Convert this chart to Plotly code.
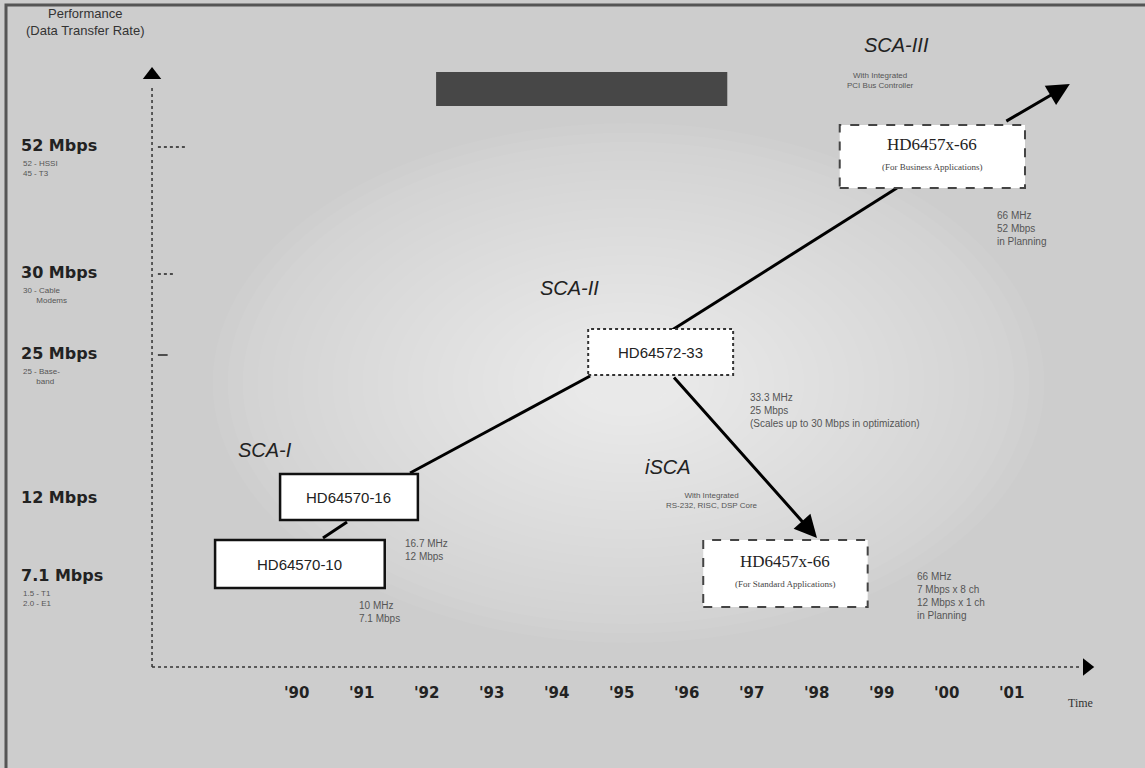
import plotly.graph_objects as go

# ---------------- data ----------------
year_labels = ["'90", "'91", "'92", "'93", "'94", "'95", "'96", "'97", "'98", "'99", "'00", "'01"]
year_vals = [1990, 1991, 1992, 1993, 1994, 1995, 1996, 1997, 1998, 1999, 2000, 2001]

rate_labels = ["52 Mbps", "30 Mbps", "25 Mbps", "12 Mbps", "7.1 Mbps"]
rate_levels = [623, 496, 415, 271, 193]
rate_notes = ["52 - HSSI<br>45 - T3", "30 - Cable<br>      Modems", "25 - Base-<br>      band", "", "1.5 - T1<br>2.0 - E1"]

products = ["HD64570-10", "HD64570-16", "HD64572-33", "HD6457x-66", "HD6457x-66"]
prod_sub = ["", "", "", "(For Standard Applications)", "(For Business Applications)"]
prod_x0 = [1988.74, 1989.74, 1994.48, 1996.25, 1998.35]
prod_x1 = [1991.35, 1991.86, 1996.71, 1998.78, 2001.20]
prod_y0 = [180, 248, 393, 161, 580]
prod_y1 = [228, 294, 439, 228, 643]
prod_specs = ["10 MHz<br>7.1 Mbps", "16.7 MHz<br>12 Mbps",
              "33.3 MHz<br>25 Mbps<br>(Scales up to 30 Mbps in optimization)",
              "66 MHz<br>7 Mbps x 8 ch<br>12 Mbps x 1 ch<br>in Planning",
              "66 MHz<br>52 Mbps<br>in Planning"]

# family names
families = ["<i>SCA-I</i>", "<i>SCA-II</i>", "<i>iSCA</i>", "<i>SCA-III</i>"]
family_notes = ["", "", "With Integrated<br>RS-232, RISC, DSP Core", "With Integrated<br>PCI Bus Controller"]

# connecting paths (year, level)
link_x = [[1990.40, 1990.77], [1991.74, 1994.51], [1995.77, 1999.23]]
link_y = [[230, 246], [295, 392], [438, 580]]
arrow_from = [(2000.89, 646), (1995.78, 392)]
arrow_to = [(2001.89, 684), (1998.00, 230)]

# highlighted period bar
period_x = [1992.14, 1996.62]
period_y = [662, 696]

# ---------------- layout constants ----------------
PX_PER_YEAR = 65.0
X0 = 1985.431
X1 = X0 + 1145 / PX_PER_YEAR
Y0, Y1 = 0, 768
AX_X = 1987.77
AX_Y = 101
AX_TOP = 683
AX_RIGHT = 2002.05

fig = go.Figure()

# background glow
glow_cx, glow_cy = 1995.1, 385
steps = 26
for i in range(steps):
    f = 1 - i / steps
    rx = 6.0 * f + 0.4
    ry = 245 * f + 15
    fig.add_shape(type="circle", xref="x", yref="y",
                  x0=glow_cx - rx, x1=glow_cx + rx, y0=glow_cy - ry, y1=glow_cy + ry,
                  fillcolor="rgba(255,255,255,0.045)", line=dict(width=0), layer="below")

# frame
fig.add_shape(type="rect", xref="x", yref="y", x0=X0 + 6 / PX_PER_YEAR, x1=X1 + 1,
              y0=-20, y1=763, line=dict(color="#555", width=3),
              fillcolor="rgba(0,0,0,0)", layer="below")

# axes (dotted)
fig.add_shape(type="line", xref="x", yref="y", x0=AX_X, x1=AX_X, y0=AX_Y, y1=AX_TOP,
              line=dict(color="#333", width=1.5, dash="dot"))
fig.add_shape(type="line", xref="x", yref="y", x0=AX_X, x1=AX_RIGHT, y0=AX_Y, y1=AX_Y,
              line=dict(color="#333", width=1.5, dash="dot"))
fig.add_trace(go.Scatter(x=[AX_X], y=[AX_TOP + 10], mode="markers",
                         marker=dict(symbol="triangle-up", size=16, color="black"),
                         hoverinfo="skip", showlegend=False))
fig.add_trace(go.Scatter(x=[AX_RIGHT + 0.1], y=[AX_Y], mode="markers",
                         marker=dict(symbol="triangle-right", size=15, color="black"),
                         hoverinfo="skip", showlegend=False))

# period bar
fig.add_shape(type="rect", xref="x", yref="y", x0=period_x[0], x1=period_x[1],
              y0=period_y[0], y1=period_y[1], fillcolor="#474747", line=dict(width=0))

# y tick marks
tick_len = [0.42, 0.25, 0.15, 0, 0]
tick_dash = ["dot", "dot", "solid", "dot", "dot"]
for lv, tl, td in zip(rate_levels, tick_len, tick_dash):
    if tl > 0:
        fig.add_shape(type="line", xref="x", yref="y", x0=AX_X + 0.09, x1=AX_X + 0.09 + tl,
                      y0=lv - 2, y1=lv - 2, line=dict(color="#222", width=1.5, dash=td))

# links
for lx, ly in zip(link_x, link_y):
    fig.add_trace(go.Scatter(x=lx, y=ly, mode="lines", line=dict(color="black", width=3),
                             hoverinfo="skip", showlegend=False))

# product boxes
box_dash = ["solid", "solid", "dot", "dash", "dash"]
box_col = ["#111", "#111", "#333", "#444", "#444"]
for i, name in enumerate(products):
    fig.add_shape(type="rect", xref="x", yref="y", x0=prod_x0[i], x1=prod_x1[i],
                  y0=prod_y0[i], y1=prod_y1[i], fillcolor="white",
                  line=dict(color=box_col[i], width=2.5 if i < 2 else 2, dash=box_dash[i]),
                  layer="above")
    cx = (prod_x0[i] + prod_x1[i]) / 2
    cy = (prod_y0[i] + prod_y1[i]) / 2
    if prod_sub[i]:
        fig.add_annotation(x=cx, y=cy + 12, text=name, showarrow=False,
                           font=dict(family="Liberation Serif", size=17, color="#222"))
        fig.add_annotation(x=cx, y=cy - 10, text=prod_sub[i], showarrow=False,
                           font=dict(family="Liberation Serif", size=9, color="#444"))
    else:
        fig.add_annotation(x=cx, y=cy, text=name, showarrow=False,
                           font=dict(family="Liberation Sans", size=15, color="#222"))

# arrows
for (fx, fy), (tx, ty) in zip(arrow_from, arrow_to):
    fig.add_annotation(x=tx, y=ty, ax=fx, ay=fy, axref="x", ayref="y", xref="x", yref="y",
                       text="", showarrow=True, arrowhead=2, arrowsize=1.5, arrowwidth=3,
                       arrowcolor="black")

# product specs
spec_pos = [(1990.92, 156), (1991.63, 218), (1996.94, 358), (1999.51, 172), (2000.74, 540)]
for (sx, sy), txt in zip(spec_pos, prod_specs):
    fig.add_annotation(x=sx, y=sy, text=txt, showarrow=False, xanchor="left", yanchor="middle",
                       align="left", font=dict(family="Liberation Sans", size=10, color="#555"))

# family labels
fam_pos = [(1989.51, 318), (1994.2, 480), (1995.71, 301), (1999.23, 723)]
fam_note_pos = [None, None, (1996.38, 268), (1998.97, 688)]
for (fx, fy), txt in zip(fam_pos, families):
    fig.add_annotation(x=fx, y=fy, text=txt, showarrow=False,
                       font=dict(family="Liberation Sans", size=20, color="#222"))
for p, txt in zip(fam_note_pos, family_notes):
    if p:
        fig.add_annotation(x=p[0], y=p[1], text=txt, showarrow=False,
                           font=dict(family="Liberation Sans", size=8, color="#555"))

# y axis title
fig.add_annotation(x=1986.74, y=746, text="Performance<br>(Data Transfer Rate)", showarrow=False,
                   font=dict(family="Liberation Sans", size=13, color="#333"))

# y labels
for lab, lv, note in zip(rate_labels, rate_levels, rate_notes):
    fig.add_annotation(x=1985.72, y=lv, text="<b>" + lab + "</b>", showarrow=False, xanchor="left",
                       font=dict(family="DejaVu Sans", size=16, color="#222"))
    if note:
        fig.add_annotation(x=1985.76, y=lv - 12, text=note, showarrow=False, xanchor="left",
                           yanchor="top", align="left",
                           font=dict(family="Liberation Sans", size=8, color="#555"))

# x labels
for yl, yv in zip(year_labels, year_vals):
    fig.add_annotation(x=yv, y=75, text="<b>" + yl + "</b>", showarrow=False,
                       font=dict(family="DejaVu Sans", size=15, color="#222"))
fig.add_annotation(x=2002.05, y=65, text="Time", showarrow=False,
                   font=dict(family="Liberation Serif", size=12, color="#333"))

fig.update_layout(
    width=1145, height=768,
    margin=dict(l=0, r=0, t=0, b=0),
    paper_bgcolor="#cdcdcd", plot_bgcolor="#cdcdcd",
    xaxis=dict(range=[X0, X1], visible=False, fixedrange=True),
    yaxis=dict(range=[Y0, Y1], visible=False, fixedrange=True),
    showlegend=False,
)

fig.write_html("out.html", config={"displayModeBar": False},
               post_script="document.body.style.margin='0px';document.body.style.overflow='hidden';")
